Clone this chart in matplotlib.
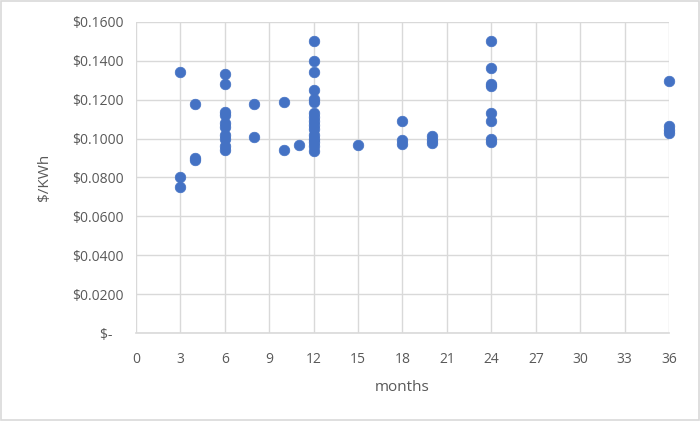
import matplotlib
matplotlib.use("Agg")
import matplotlib.pyplot as plt
from matplotlib.ticker import FuncFormatter, MultipleLocator

# contract term (months) and price ($/KWh)
months_3 = [3, 3, 3]
price_3 = [0.134, 0.080, 0.075]
months_4 = [4, 4, 4]
price_4 = [0.1177, 0.0901, 0.0888]
months_6 = [6] * 10
price_6 = [0.133, 0.128, 0.1137, 0.112, 0.108, 0.106, 0.102, 0.100, 0.0962, 0.094]
months_8 = [8, 8]
price_8 = [0.1177, 0.1008]
months_10 = [10, 10]
price_10 = [0.119, 0.094]
months_11 = [11]
price_11 = [0.0968]
months_12 = [12] * 16
price_12 = [0.150, 0.140, 0.134, 0.125, 0.1205, 0.119, 0.113, 0.111, 0.109, 0.107,
            0.105, 0.102, 0.100, 0.098, 0.096, 0.0935]
months_15 = [15]
price_15 = [0.0968]
months_18 = [18, 18, 18]
price_18 = [0.109, 0.0992, 0.0972]
months_20 = [20, 20, 20]
price_20 = [0.1013, 0.0992, 0.0975]
months_24 = [24] * 8
price_24 = [0.1504, 0.1365, 0.1282, 0.1272, 0.1132, 0.1092, 0.1000, 0.0983]
months_36 = [36, 36, 36, 36]
price_36 = [0.1298, 0.1066, 0.1045, 0.1027]

months = (months_3 + months_4 + months_6 + months_8 + months_10 + months_11 + months_12
          + months_15 + months_18 + months_20 + months_24 + months_36)
price = (price_3 + price_4 + price_6 + price_8 + price_10 + price_11 + price_12
         + price_15 + price_18 + price_20 + price_24 + price_36)

plt.rcParams['font.family'] = ['Open Sans', 'DejaVu Sans']

fig = plt.figure(figsize=(7, 4.21), dpi=100)
ax = fig.add_axes([0.194, 0.209, 0.762, 0.739])

grid_col = "#D9D9D9"
text_col = "#595959"

ax.scatter(months, price, s=58, color="#4472C4", edgecolors="#4472C4", linewidths=0.5,
           zorder=3, clip_on=False)

ax.set_xlim(0, 36)
ax.set_ylim(0, 0.16)
ax.xaxis.set_major_locator(MultipleLocator(3))
ax.yaxis.set_major_locator(MultipleLocator(0.02))

def dollar(v, pos):
    if abs(v) < 1e-9:
        return "$-   "
    return f"${v:.4f}"

ax.yaxis.set_major_formatter(FuncFormatter(dollar))

ax.grid(True, color=grid_col, linewidth=1.0, zorder=0)
for side in ["top", "right", "left"]:
    ax.spines[side].set_visible(False)
ax.spines["bottom"].set_color(grid_col)
ax.spines["bottom"].set_linewidth(1.2)
ax.tick_params(axis="both", length=0, colors=text_col, labelsize=10)
ax.tick_params(axis="x", pad=14)
ax.tick_params(axis="y", pad=9)

ax.set_xlabel("months", color=text_col, fontsize=11, labelpad=9)
ax.set_ylabel("$/KWh", color=text_col, fontsize=11, labelpad=14)

# chart area border
fig.patches.append(plt.Rectangle((0.001, 0.002), 0.997, 0.996, transform=fig.transFigure,
                                 fill=False, edgecolor="#D9D9D9", linewidth=1.2))

fig.savefig("out.png", dpi=100)
